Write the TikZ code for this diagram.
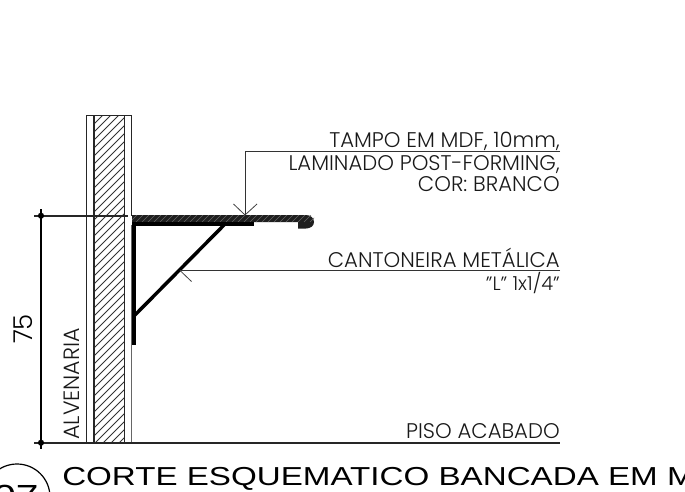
\documentclass[tikz,border=0pt]{standalone}
\usepackage{fontspec}
\setmainfont{Poppins}[UprightFont=* Light]
\newfontfamily\arialf{Liberation Sans}[FakeStretch=1.275]
\tikzset{
  thinl/.style={line width=0.75pt,draw=black!80},
  wall/.style={line width=0.8pt,draw=black!85},
  lbl/.style={inner sep=0pt,anchor=base east,font=\fontsize{15.9}{15.9}\selectfont,text=black!90},
  tick/.style={line width=0.6pt,draw=black!75},
  steel/.style={fill=black,draw=none},
  dot/.style={circle,fill=black,inner sep=0pt,minimum size=4.6pt}
}
\begin{document}
\begin{tikzpicture}[x=0.75pt,y=-0.75pt]
\useasboundingbox (0,0) rectangle (685,492);
\clip (0,0) rectangle (685,492);
% hatching of the wall
\begin{scope}
  \clip (94,115.5) rectangle (124.5,442.5);
  \foreach \k in {0,8,...,376}{
    \draw[line width=0.65pt,black!80] (90,120+\k) -- (130,80+\k);
  }
\end{scope}
\draw[wall] (86.5,442.7) -- (86.5,115.5) -- (131.7,115.5) -- (131.7,216);
\draw[wall,black!60] (131.7,225) -- (131.7,442.7);
\draw[wall] (94,115.5) -- (94,442.7);
\draw[wall] (124.5,115.5) -- (124.5,442.7);
% level and dimension lines
\coordinate (dimTop) at (41,215.7);
\coordinate (dimBot) at (41,442.7);
\draw[line width=1.25pt,black!85] (34,215.7) -- (128,215.7);
\draw[line width=1.25pt,black!85] (34,442.7) -- (560,442.7);
\draw[line width=1.2pt] (41,209) -- (41,449);
\node[dot] at (dimTop) {};
\node[dot] at (dimBot) {};
% counter top
\fill[black!88] (132,215) -- (306,215) .. controls (310.5,215) and (314,218) .. (314,222) .. controls (314,226) and (310.5,228.5) .. (306,228.5) -- (298,228.5) -- (298,222) -- (132,222) -- cycle;
\begin{scope}
  \clip (132,215) rectangle (314,222);
  \foreach \k in {0,6,...,190}{
    \draw[line width=0.35pt,black!60] (130+\k,222) -- (137+\k,215);
  }
\end{scope}
% bracket
\fill[steel] (132,222) rectangle (254,225.5);
\fill[steel] (132,222) rectangle (135.5,345);
\draw[line width=2.6pt] (225,224) -- (134,316);
% leaders
\coordinate (l1) at (245,151);
\coordinate (l1e) at (245,215);
\coordinate (l2) at (180,270.5);
\draw[thinl] (560,151) -- (l1) -- (l1e);
\draw[tick] (233.5,204) -- (l1e) -- (257,204);
\draw[thinl] (560,270.5) -- (l2);
\draw[tick] (180,270.5) -- (191.5,281.5);
% labels
\node[lbl] (t1) at (560,147.5) {TAMPO EM MDF, 10mm,};
\node[lbl] (t2) at (560,170) {LAMINADO POST-FORMING,};
\node[lbl] (t3) at (560,191) {COR: BRANCO};
\node[lbl] (t4) at (560,267) {CANTONEIRA METÁLICA};
\node[lbl,font=\fontsize{14.5}{14.5}\selectfont] (t5) at (560,290.5) {"L" 1x1/4"};
\node[lbl] (t6) at (560,438) {PISO ACABADO};
\node[inner sep=0pt,rotate=90,anchor=base,font=\fontsize{19.5}{19.5}\selectfont] (t7) at (32,329) {75};
\node[inner sep=0pt,rotate=90,anchor=base west,font=\fontsize{16.6}{16.6}\selectfont,text=black!90] (t8) at (79,440) {ALVENARIA};
% title
\node[inner sep=0pt,anchor=base west,font=\arialf\fontsize{19.5}{19.5}\selectfont] (t9) at (62,485.5) {CORTE ESQUEMATICO BANCADA EM M};
\draw[line width=0.9pt] (17,497) circle[radius=33];
\node[inner sep=0pt,anchor=base,font=\arialf\fontsize{24}{24}\selectfont] (t10) at (16,507) {07};
\end{tikzpicture}
\end{document}
